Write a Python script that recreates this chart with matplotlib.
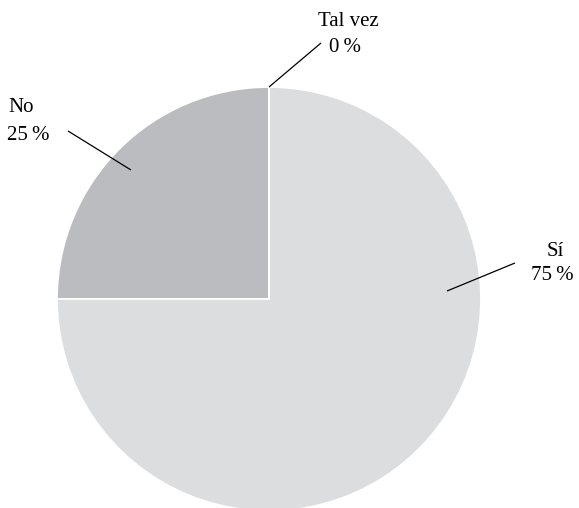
import matplotlib
matplotlib.use("Agg")
import matplotlib.pyplot as plt

# Survey answers (percent)
categories = ["No", "Sí", "Tal vez"]
values = [25, 75, 0]
colors = ["#bbbcbf", "#dcdddf", "#dcdddf"]

# Label text positions (pixel coords, y measured from top) and leader-line endpoints
label_pos = {"No": [(21, 108), (28, 136)], "Sí": [(555, 251), (552, 275)], "Tal vez": [(348, 21), (345, 47)]}
leader = {"No": ((131, 170), (68, 131)), "Sí": ((447, 291), (515, 263)), "Tal vez": ((269, 87), (321, 43))}

W, H = 579, 508
plt.rcParams["font.family"] = ["Liberation Serif", "DejaVu Serif"]

fig = plt.figure(figsize=(W / 100, H / 100), dpi=100)
ax = fig.add_axes([0, 0, 1, 1])

center = (269, H - 299)
radius = 212
ax.pie(values, colors=colors, startangle=90, counterclock=True,
       center=center, radius=radius, frame=True,
       wedgeprops=dict(edgecolor="white", linewidth=1.3))
ax.set_xlim(0, W)
ax.set_ylim(0, H)
ax.set_aspect("equal")
ax.axis("off")

for cat, val in zip(categories, values):
    (x0, y0), (x1, y1) = leader[cat]
    ax.plot([x0, x1], [H - y0, H - y1], color="black", lw=0.9, solid_capstyle="butt")
    (tx0, ty0), (tx1, ty1) = label_pos[cat]
    ax.text(tx0, H - ty0, cat, ha="center", va="center", fontsize=15)
    ax.text(tx1, H - ty1, f"{val}\u2009%", ha="center", va="center", fontsize=15)

fig.savefig("out.png", dpi=100)
